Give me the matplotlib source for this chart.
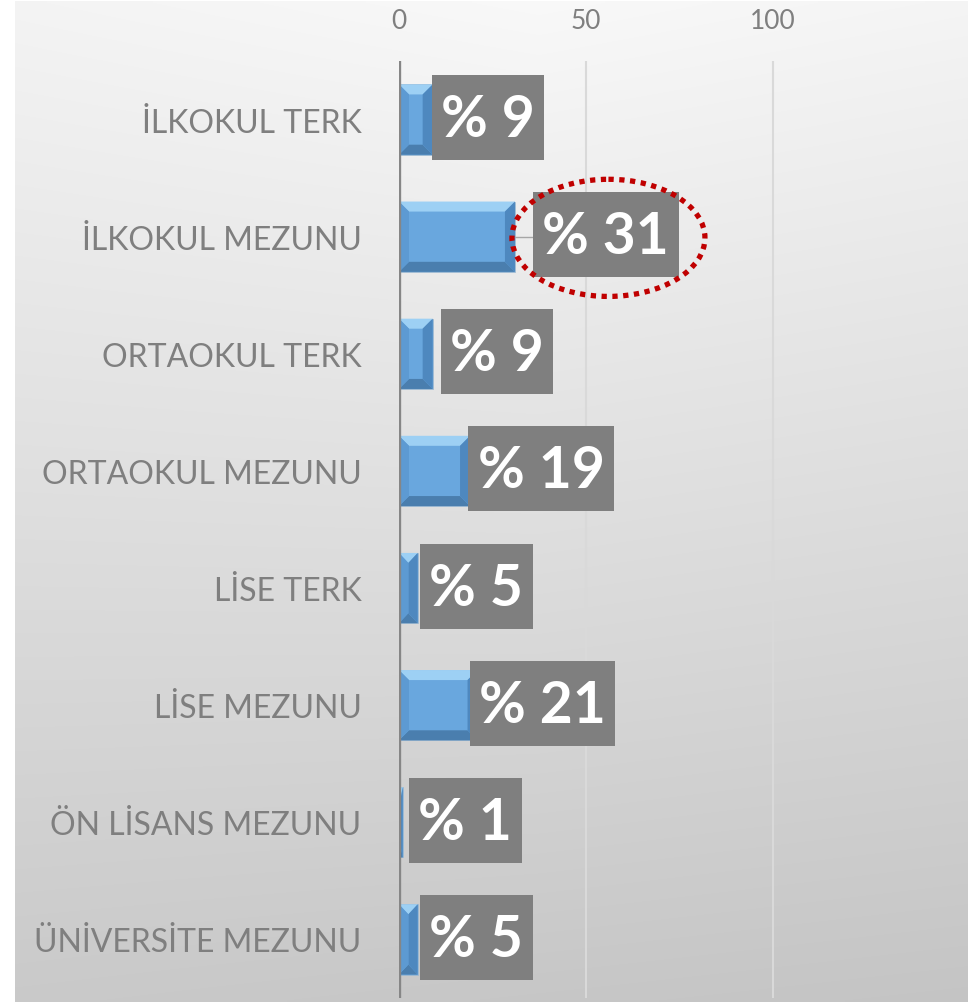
import numpy as np
import matplotlib
matplotlib.use("Agg")
import matplotlib.pyplot as plt
from matplotlib.patches import Polygon, Ellipse, Rectangle
from matplotlib.transforms import ScaledTranslation

plt.rcParams['font.family'] = ['Lato', 'DejaVu Sans']

categories = ["İLKOKUL TERK", "İLKOKUL MEZUNU", "ORTAOKUL TERK", "ORTAOKUL MEZUNU",
              "LİSE TERK", "LİSE MEZUNU", "ÖN LİSANS MEZUNU", "ÜNİVERSİTE MEZUNU"]
values = [9, 31, 9, 19, 5, 21, 1, 5]
x_ticks = [0, 50, 100]
highlight = "İLKOKUL MEZUNU"

# label box horizontal shift (px) relative to bar end
label_shift_px = [-1, 18, 8, -2, 2, -8, 6, 2]

W, H = 968, 1003
fig = plt.figure(figsize=(W / 100, H / 100), dpi=100)
fig.patch.set_facecolor("white")

# background gradient
bg = fig.add_axes([15 / W, 0, 1 - 15 / W, 1 - 2 / H])
yy, xx = np.mgrid[0:1:300j, 0:1:300j]
val = 0.975 - 0.185 * yy - 0.035 * np.abs(xx - 0.55) * (1 - yy) - 0.02 * xx * yy
bg.imshow(np.dstack([val, val, val]), aspect="auto", extent=[0, 1, 1, 0], interpolation="bilinear")
bg.set_axis_off()
bg.set_zorder(-5)

ax = fig.add_axes([399 / W, 4 / H, (960 - 399) / W, 937 / H])
ax.set_facecolor("none")
ax.set_xlim(0, 150)
ax.set_ylim(len(categories) - 0.5, -0.5)
for s in ax.spines.values():
    s.set_visible(False)

ax.xaxis.tick_top()
ax.set_xticks(x_ticks)
ax.set_xticklabels([str(t) for t in x_ticks], color="#7f7f7f", fontsize=19)
ax.tick_params(axis="x", length=0, pad=20)
ax.set_yticks(range(len(categories)))
ax.set_yticklabels(categories, color="#7f7f7f", fontsize=23)
ax.tick_params(axis="y", length=0, pad=27)

for t in x_ticks[1:]:
    ax.axvline(t, color="#d9d9d9", lw=1.5, zorder=1)
ax.axvline(0, color="#868686", lw=2.4, zorder=6)

bh = 0.6
# bevel sizes in data units (~10 px)
bx = 10 / 3.74
by = 10 / 117.0
for i, v in enumerate(values):
    y0, y1 = i - bh / 2, i + bh / 2
    ax.barh(i, v, height=bh, color="#69a7de", edgecolor="#9fb9cf", lw=0.5, zorder=3)
    ex = min(bx, v / 2)
    ey = by
    ax.add_patch(Polygon([(0, y0), (v, y0), (v - ex, y0 + ey), (ex, y0 + ey)],
                         closed=True, fc="#9dd0f4", ec="none", zorder=4))
    ax.add_patch(Polygon([(0, y1), (v, y1), (v - ex, y1 - ey), (ex, y1 - ey)],
                         closed=True, fc="#4a7eae", ec="none", zorder=4))
    ax.add_patch(Polygon([(v, y0), (v, y1), (v - ex, y1 - ey), (v - ex, y0 + ey)],
                         closed=True, fc="#4e88bf", ec="none", zorder=4))
    ax.add_patch(Polygon([(0, y0), (0, y1), (ex, y1 - ey), (ex, y0 + ey)],
                         closed=True, fc="#5d9ad2", ec="none", zorder=4))

fs = 41
pad_h = 9.5   # px
box_h = 85    # px
texts = []
for i, (v, sh) in enumerate(zip(values, label_shift_px)):
    dx = (sh + pad_h) / 100.0
    tr = ax.transData + ScaledTranslation(dx, 0, fig.dpi_scale_trans)
    t = ax.text(v, i, f"% {v}", transform=tr, ha="left", va="center",
                fontsize=fs, fontweight="bold", color="white", zorder=8)
    texts.append((t, v, i, sh))

fig.canvas.draw()
renderer = fig.canvas.get_renderer()
inv = ax.transData.inverted()
for t, v, i, sh in texts:
    ext = t.get_window_extent(renderer)
    xl_disp = ax.transData.transform((v, i))[0] + sh
    xr_disp = ext.x1 + pad_h
    yc_disp = ax.transData.transform((v, i))[1] + 2
    (xl, yt), = inv.transform([(xl_disp, yc_disp + box_h / 2)])
    (xr, yb), = inv.transform([(xr_disp, yc_disp - box_h / 2)])
    ax.add_patch(Rectangle((xl, min(yt, yb)), xr - xl, abs(yb - yt),
                           fc="#7f7f7f", ec="none", zorder=7))

# highlight: leader line + dotted ellipse
hi = categories.index(highlight)
hv = values[hi]
ax.plot([hv, hv + 18 / 3.74], [hi, hi], color="#a6a6a6", lw=1, zorder=6.5)
ax.add_patch(Ellipse((hv + 25, hi + 0.01), width=193 / 3.74, height=1.0,
                     fill=False, ec="#c00000", lw=3.8, ls=(0, (1, 1.05)), zorder=9))

fig.savefig("out.png", dpi=100)
